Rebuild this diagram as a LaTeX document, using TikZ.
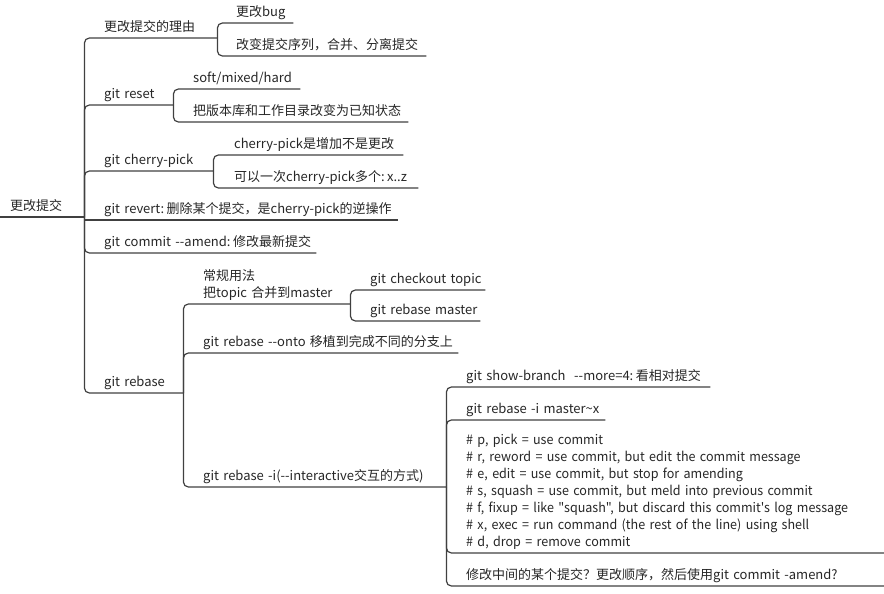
\documentclass[tikz,border=0pt]{standalone}
\usepackage{fontspec}
\setmainfont{Noto Sans CJK SC}[Ligatures=TeXOff]
\newcommand\mlines[1]{\begin{tabular}[b]{@{}l@{}}#1\end{tabular}}
\newcommand\csp{\hspace{2.5pt}}
\begin{document}
\begin{tikzpicture}[x=1pt,y=-1pt,
  lbl/.style={anchor=south west, inner xsep=0pt, inner ysep=6.5pt, text depth=0pt, align=left,
    font=\fontsize{13}{17}\selectfont, text=black!85},
  conn/.style={draw=black!75, line width=1.2pt, rounded corners=5pt},
  uline/.style={draw=black!75, line width=1.2pt}]
\useasboundingbox (0,0) rectangle (884,594);
% root
\node[lbl, text width=74] (root) at (10,217) {更改提交};
% level 1
\node[lbl, text width=113] (r1) at (104,38) {更改提交的理由};
\node[lbl, text width=69] (r2) at (104,105) {git reset};
\node[lbl, text width=109] (r3) at (104,171) {git cherry-pick};
\node[lbl, text width=294] (r4) at (104,220) {git revert:\csp{}删除某个提交，是cherry-pick的逆操作};
\node[lbl, text width=212] (r5) at (104,253) {git commit --amend:\csp{}修改最新提交};
\node[lbl, text width=79] (r6) at (104,393) {git rebase};
% level 2
\node[lbl, text width=57] (a1) at (236,23) {更改bug};
\node[lbl, text width=190] (a2) at (236,56) {改变提交序列，合并、分离提交};
\node[lbl, text width=107] (b1) at (193,89) {soft/mixed/hard};
\node[lbl, text width=215] (b2) at (193,122) {把版本库和工作目录改变为已知状态};
\node[lbl, text width=169] (c1) at (234,155) {cherry-pick是增加不是更改};
\node[lbl, text width=184] (c2) at (234,188) {可以一次cherry-pick多个:\csp{}x..z};
\node[lbl, text width=147] (d1) at (203,304) {\mlines{常规用法\\把topic 合并到master}};
\node[lbl, text width=255] (d2) at (203,353) {git rebase --onto 移植到完成不同的分支上};
\node[lbl, text width=243] (d3) at (203,487) {git rebase -i(--interactive交互的方式)};
% level 3
\node[lbl, text width=115] (e1) at (370,290) {git checkout topic};
\node[lbl, text width=110] (e2) at (370,321) {git rebase master};
\node[lbl, text width=244] (f1) at (466,387) {git show-branch\ \ --more=4:\csp{}看相对提交};
\node[lbl, text width=139] (f2) at (466,420) {git rebase -i master\string~x};
\node[lbl, text width=418] (f3) at (466,553) {\addfontfeatures{FakeStretch=0.965}\mlines{\# p, pick = use commit\\
\# r, reword = use commit, but edit the commit message\\
\# e, edit = use commit, but stop for amending\\
\# s, squash = use commit, but meld into previous commit\\
\# f, fixup = like "squash", but discard this commit's log message\\
\# x, exec = run command (the rest of the line) using shell\\
\# d, drop = remove commit}};
\node[lbl, text width=418] (f4) at (466,586) {修改中间的某个提交？更改顺序，然后使用git commit -amend?};
% connectors
\draw[uline] ([xshift=-10pt]root.south west) -- (root.south east);
\foreach \c in {r1,r2,r3,r5,r6}
  \draw[conn] (root.south east) |- (\c.south west) -- (\c.south east);
\draw[uline] (root.south east) |- (r4.south west) -- (r4.south east);
\foreach \c in {a1,a2}
  \draw[conn] (r1.south east) |- (\c.south west) -- (\c.south east);
\foreach \c in {b1,b2}
  \draw[conn] (r2.south east) |- (\c.south west) -- (\c.south east);
\foreach \c in {c1,c2}
  \draw[conn] (r3.south east) |- (\c.south west) -- (\c.south east);
\foreach \c in {d1,d2,d3}
  \draw[conn] (r6.south east) |- (\c.south west) -- (\c.south east);
\foreach \c in {e1,e2}
  \draw[conn] (d1.south east) |- (\c.south west) -- (\c.south east);
\foreach \c in {f1,f2,f3,f4}
  \draw[conn] (d3.south east) |- (\c.south west) -- (\c.south east);
\end{tikzpicture}
\end{document}
